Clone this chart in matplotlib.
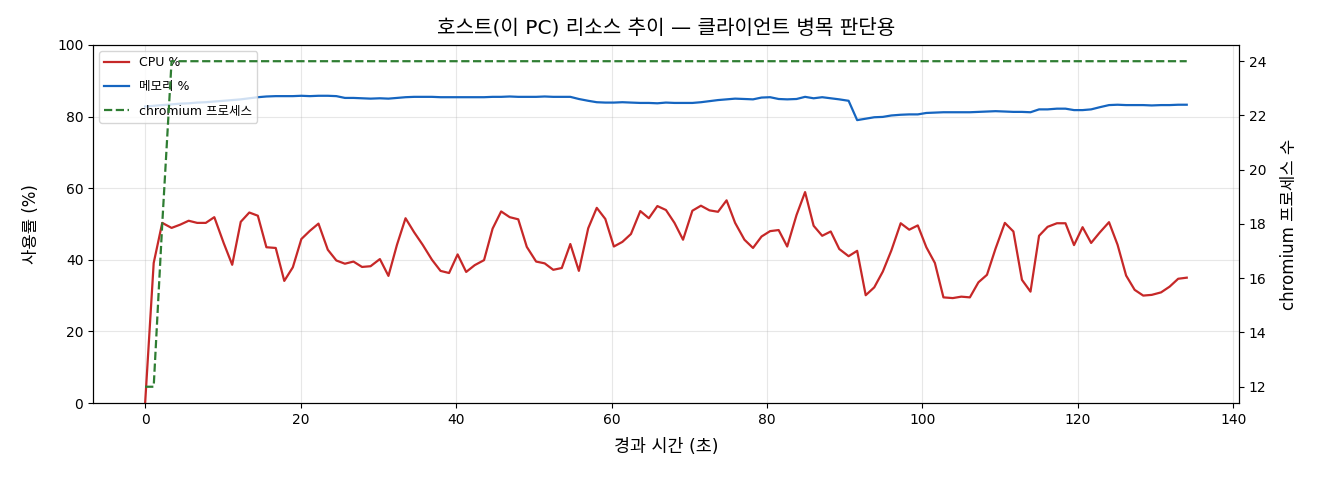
import matplotlib
matplotlib.use("Agg")
import matplotlib.pyplot as plt

plt.rcParams['font.family'] = ['DejaVu Sans', 'Noto Sans CJK KR']
plt.rcParams['axes.unicode_minus'] = False

# elapsed seconds of each sample
elapsed = [0.0, 1.1, 2.2, 3.4, 4.5, 5.6, 6.7, 7.8, 8.9, 10.1,
           11.2, 12.3, 13.4, 14.5, 15.6, 16.8, 17.9, 19.0, 20.1, 21.2,
           22.3, 23.5, 24.6, 25.7, 26.8, 27.9, 29.0, 30.2, 31.3, 32.4,
           33.5, 34.6, 35.7, 36.9, 38.0, 39.1, 40.2, 41.3, 42.4, 43.6,
           44.7, 45.8, 46.9, 48.0, 49.1, 50.3, 51.4, 52.5, 53.6, 54.7,
           55.8, 57.0, 58.1, 59.2, 60.3, 61.4, 62.5, 63.7, 64.8, 65.9,
           67.0, 68.1, 69.2, 70.4, 71.5, 72.6, 73.7, 74.8, 75.9, 77.1,
           78.2, 79.3, 80.4, 81.5, 82.6, 83.8, 84.9, 86.0, 87.1, 88.2,
           89.3, 90.5, 91.6, 92.7, 93.8, 94.9, 96.0, 97.2, 98.3, 99.4,
           100.5, 101.6, 102.7, 103.9, 105.0, 106.1, 107.2, 108.3, 109.4, 110.6,
           111.7, 112.8, 113.9, 115.0, 116.1, 117.3, 118.4, 119.5, 120.6, 121.7,
           122.8, 124.0, 125.1, 126.2, 127.3, 128.4, 129.5, 130.7, 131.8, 132.9,
           134.0]

cpu = [0.0, 39.1, 50.3, 48.9, 49.8, 50.9, 50.3, 50.3, 51.9, 44.7,
       38.6, 50.6, 53.2, 52.3, 43.5, 43.3, 34.1, 37.9, 45.8, 48.1,
       50.1, 42.8, 39.8, 38.9, 39.5, 38.0, 38.2, 40.2, 35.5, 44.2,
       51.6, 47.7, 44.2, 40.0, 36.9, 36.3, 41.5, 36.6, 38.5, 39.9,
       48.7, 53.5, 51.9, 51.3, 43.6, 39.5, 39.0, 37.2, 37.7, 44.4,
       36.9, 48.8, 54.5, 51.4, 43.7, 45.0, 47.2, 53.6, 51.6, 55.0,
       53.9, 50.3, 45.6, 53.7, 55.1, 53.8, 53.4, 56.6, 50.3, 45.6,
       43.3, 46.5, 48.0, 48.3, 43.7, 52.5, 58.9, 49.5, 46.7, 47.9,
       43.0, 41.0, 42.5, 30.1, 32.3, 36.7, 42.6, 50.2, 48.4, 49.6,
       43.5, 39.1, 29.5, 29.3, 29.7, 29.5, 33.7, 35.8, 43.1, 50.3,
       47.9, 34.4, 31.1, 46.7, 49.2, 50.2, 50.2, 44.1, 49.1, 44.7,
       47.6, 50.5, 44.2, 35.6, 31.6, 30.0, 30.2, 30.9, 32.5, 34.7,
       35.0]

memory = [82.8, 83.0, 83.2, 83.4, 83.6, 83.7, 83.9, 84.0, 84.2, 84.4,
          84.6, 84.8, 85.1, 85.4, 85.6, 85.7, 85.7, 85.7, 85.8, 85.7,
          85.8, 85.8, 85.7, 85.2, 85.2, 85.1, 85.0, 85.1, 85.0, 85.2,
          85.4, 85.5, 85.5, 85.5, 85.4, 85.4, 85.4, 85.4, 85.4, 85.4,
          85.5, 85.5, 85.6, 85.5, 85.5, 85.5, 85.6, 85.5, 85.5, 85.5,
          84.9, 84.4, 84.0, 83.9, 83.9, 84.0, 83.9, 83.8, 83.8, 83.7,
          83.9, 83.8, 83.8, 83.8, 84.0, 84.3, 84.6, 84.8, 85.0, 84.9,
          84.8, 85.3, 85.4, 84.9, 84.8, 84.9, 85.5, 85.1, 85.4, 85.1,
          84.8, 84.4, 79.0, 79.4, 79.8, 79.9, 80.3, 80.5, 80.6, 80.6,
          81.0, 81.1, 81.2, 81.2, 81.2, 81.2, 81.3, 81.4, 81.5, 81.4,
          81.3, 81.3, 81.2, 82.0, 82.0, 82.2, 82.2, 81.8, 81.8, 82.0,
          82.6, 83.2, 83.3, 83.2, 83.2, 83.2, 83.1, 83.2, 83.2, 83.3,
          83.3]

chromium = [12, 12, 18] + [24] * 118

fig = plt.figure(figsize=(13.2, 4.8), dpi=100)
ax1 = fig.add_axes([0.0705, 0.1604, 0.868, 0.746])

l1, = ax1.plot(elapsed, cpu, color='#c62828', linewidth=1.6, label='CPU %')
l2, = ax1.plot(elapsed, memory, color='#1565c0', linewidth=1.6, label='메모리 %')
ax1.set_ylim(0, 100)
ax1.set_xlabel('경과 시간 (초)', fontsize=12.5, labelpad=8)
ax1.set_ylabel('사용률 (%)', fontsize=12, labelpad=12)
ax1.tick_params(labelsize=10)
ax1.grid(True, alpha=0.3)
ax1.set_title('호스트(이 PC) 리소스 추이 — 클라이언트 병목 판단용', fontsize=14.5, pad=8)

ax2 = ax1.twinx()
l3, = ax2.plot(elapsed, chromium, color='#2e7d32', linewidth=1.6,
               linestyle='--', label='chromium 프로세스')
ax2.set_ylabel('chromium 프로세스 수', fontsize=12, labelpad=10)
ax2.tick_params(labelsize=10)

ax1.legend(handles=[l1, l2, l3], loc='upper left', fontsize=9,
           labelspacing=0.9)

fig.savefig('out.png', dpi=100)
